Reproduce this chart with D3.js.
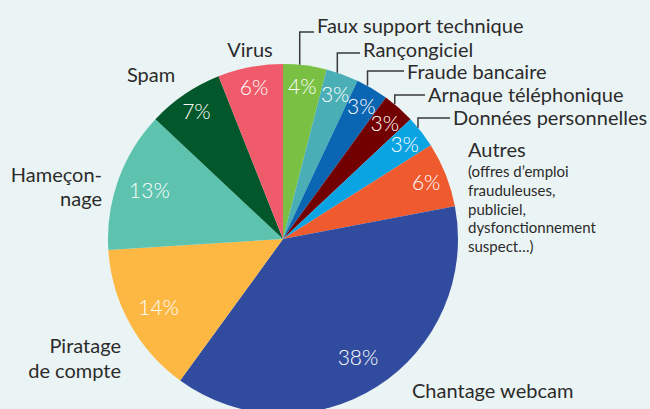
<!DOCTYPE html>
<html>
<head>
<meta charset="utf-8">
<script src="https://cdn.jsdelivr.net/npm/d3@7"></script>
<style>
  html, body { margin: 0; padding: 0; background: #ebf4f5; }
  svg { display: block; font-family: Lato, "Noto Sans", sans-serif; }
</style>
</head>
<body>
<svg id="chart"></svg>
<script>
// Parts of reported cyber-threats (%)
var categories = ["Faux support technique", "Rançongiciel", "Fraude bancaire", "Arnaque téléphonique",
  "Données personnelles", "Autres", "Chantage webcam", "Piratage de compte", "Hameçonnage", "Spam", "Virus"];
var values = [4, 3, 3, 3, 3, 6, 38, 14, 13, 7, 6];
var sliceColors = ["#7ac143", "#4aaeb6", "#0a66b2", "#730000", "#0aa4e2", "#ef5a2f",
  "#314c9f", "#fdb843", "#5dc3ae", "#02582b", "#f05b6b"];
var autresDetail = ["(offres d\u2019emploi", "frauduleuses,", "publiciel,", "dysfonctionnement", "suspect\u2026)"];

var width = 650, height = 409;
var cx = 283, cy = 239, radius = 175;

var svg = d3.select("#chart").attr("width", width).attr("height", height);
svg.append("rect").attr("width", width).attr("height", height).attr("fill", "#ebf4f5");

var color = d3.scaleOrdinal().domain(categories).range(sliceColors);

var data = categories.map(function (c, i) { return { name: c, value: values[i] }; });
var pie = d3.pie().sort(null).value(function (d) { return d.value; });
var arcs = pie(data);
var arc = d3.arc().innerRadius(0).outerRadius(radius);

var g = svg.append("g").attr("transform", "translate(" + cx + "," + cy + ")");

g.selectAll("path.slice")
  .data(arcs)
  .join("path")
  .attr("class", "slice")
  .attr("d", arc)
  .attr("fill", function (d) { return color(d.data.name); });

// percentages inside the slices
g.selectAll("text.pct")
  .data(arcs)
  .join("text")
  .attr("class", "pct")
  .attr("transform", function (d) {
    var r = d.data.value > 30 ? 140 : (d.data.value > 10 ? 142 : 154);
    var a = (d.startAngle + d.endAngle) / 2;
    return "translate(" + (r * Math.sin(a)) + "," + (-r * Math.cos(a)) + ")";
  })
  .attr("text-anchor", "middle")
  .attr("dy", "0.36em")
  .attr("fill", "#fff")
  .attr("font-size", 21)
  .attr("font-weight", 300)
  .text(function (d) { return d.data.value + "%"; });

// outside labels (layout only)
var labelLayout = {
  "Faux support technique": { x: 317, y: 33, anchor: "start", ly: 32 },
  "Rançongiciel": { x: 363, y: 57, anchor: "start", ly: 53 },
  "Fraude bancaire": { x: 407, y: 79, anchor: "start", ly: 71 },
  "Arnaque téléphonique": { x: 428, y: 102, anchor: "start", ly: 95 },
  "Données personnelles": { x: 453, y: 125, anchor: "start", ly: 118 },
  "Autres": { x: 468, y: 157, anchor: "start" },
  "Chantage webcam": { x: 412, y: 398, anchor: "start" },
  "Piratage de compte": { x: 121, y: 353, anchor: "end", lines: ["Piratage", "de compte"], lh: 25 },
  "Hameçonnage": { x: 102, y: 182, anchor: "end", lines: ["Hameçon-", "nage"], lh: 24 },
  "Spam": { x: 151, y: 82, anchor: "middle" },
  "Virus": { x: 250, y: 57, anchor: "middle" }
};

var labels = svg.append("g").attr("fill", "#2b2b2b");

arcs.forEach(function (d) {
  var L = labelLayout[d.data.name];
  var t = labels.append("text")
    .attr("x", L.x).attr("y", L.y)
    .attr("text-anchor", L.anchor)
    .attr("font-size", 20);
  var lines = L.lines || [d.data.name];
  lines.forEach(function (s, i) {
    t.append("tspan").attr("x", L.x).attr("dy", i === 0 ? 0 : L.lh).text(s);
  });

  if (L.ly !== undefined) {
    // leader line: from the rim, straight up, then across to the label
    var a = (d.startAngle + d.endAngle) / 2 - 0.03;
    var px = cx + radius * Math.sin(a), py = cy - radius * Math.cos(a);
    labels.append("path")
      .attr("d", "M" + px + "," + py + "V" + L.ly + "H" + (L.x - 3))
      .attr("fill", "none")
      .attr("stroke", "#3a3a3a")
      .attr("stroke-width", 1.5);
  }
});

// detail under "Autres"
var det = labels.append("text")
  .attr("x", 468).attr("y", 177)
  .attr("font-size", 15);
autresDetail.forEach(function (s, i) {
  det.append("tspan").attr("x", 468).attr("dy", i === 0 ? 0 : 18.8).text(s);
});
</script>
</body>
</html>
